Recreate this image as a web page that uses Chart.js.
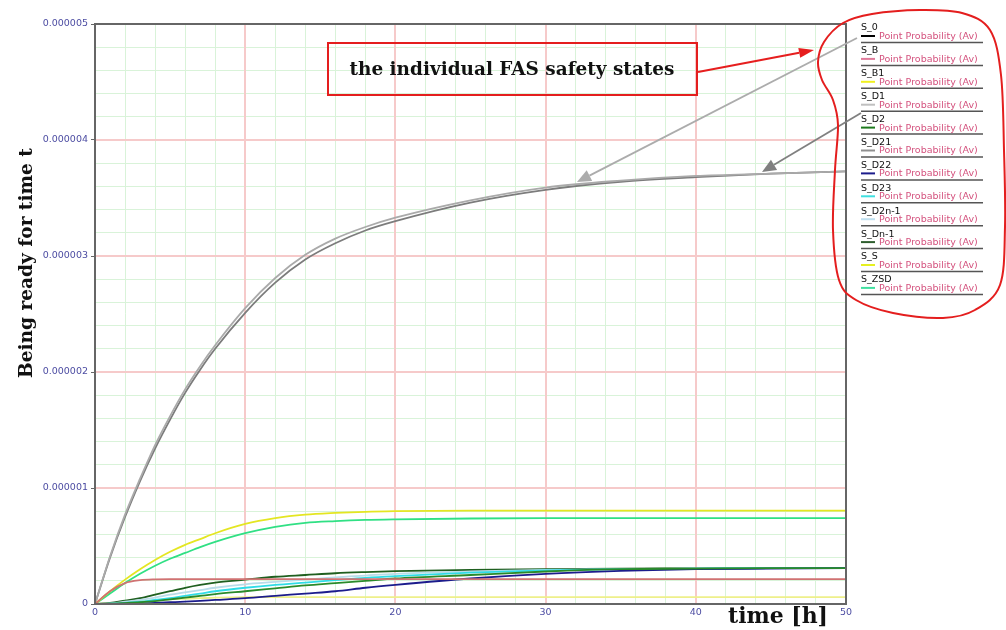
<!DOCTYPE html>
<html>
<head>
<meta charset="utf-8">
<script src="https://cdn.jsdelivr.net/npm/chart.js@4.4.1/dist/chart.umd.min.js"></script>
<style>
    html, body { margin: 0; padding: 0; background: #fff; }
</style>
</head>
<body>
<canvas id="chart" width="1006" height="630"></canvas>
<script>
// time [h]
const times = [0, 1, 2, 3, 4, 5, 6, 7, 8, 10, 12, 14, 16, 18, 20, 25, 30, 35, 40, 45, 50];

// point probability, in units of 1e-6
const S_0     = [0, 0, 0, 0, 0, 0, 0, 0, 0, 0, 0, 0, 0, 0, 0, 0, 0, 0, 0, 0, 0];
const S_B     = [0, 0.11, 0.18, 0.205, 0.213, 0.215, 0.215, 0.215, 0.215, 0.215, 0.215, 0.215, 0.215, 0.215, 0.215, 0.215, 0.215, 0.215, 0.215, 0.215, 0.215];
const S_B1    = [0, 0.11, 0.21, 0.30, 0.38, 0.45, 0.51, 0.56, 0.61, 0.69, 0.74, 0.77, 0.785, 0.795, 0.80, 0.805, 0.805, 0.805, 0.805, 0.805, 0.805];
const S_D1    = [0, 0.41, 0.77, 1.08, 1.37, 1.62, 1.85, 2.05, 2.23, 2.55, 2.81, 3.01, 3.15, 3.25, 3.33, 3.48, 3.59, 3.65, 3.69, 3.71, 3.73];
const S_D2    = [0, 0.002, 0.008, 0.015, 0.025, 0.04, 0.055, 0.07, 0.085, 0.11, 0.135, 0.16, 0.18, 0.20, 0.22, 0.25, 0.28, 0.30, 0.305, 0.31, 0.31];
const S_D21   = [0, 0.40, 0.75, 1.06, 1.34, 1.59, 1.82, 2.02, 2.20, 2.51, 2.77, 2.97, 3.11, 3.22, 3.30, 3.46, 3.57, 3.64, 3.68, 3.71, 3.73];
const S_D22   = [0, 0, 0.002, 0.005, 0.01, 0.015, 0.02, 0.027, 0.035, 0.05, 0.07, 0.09, 0.11, 0.14, 0.165, 0.22, 0.26, 0.285, 0.30, 0.305, 0.31];
const S_D23   = [0, 0.003, 0.01, 0.02, 0.035, 0.05, 0.07, 0.09, 0.11, 0.14, 0.165, 0.185, 0.205, 0.225, 0.24, 0.27, 0.29, 0.30, 0.305, 0.31, 0.31];
const S_D2n_1 = [0, 0.005, 0.02, 0.035, 0.055, 0.08, 0.10, 0.12, 0.14, 0.17, 0.19, 0.21, 0.23, 0.245, 0.26, 0.28, 0.295, 0.30, 0.305, 0.31, 0.31];
const S_Dn_1  = [0, 0.01, 0.03, 0.05, 0.08, 0.11, 0.14, 0.165, 0.185, 0.21, 0.235, 0.25, 0.265, 0.275, 0.283, 0.293, 0.30, 0.305, 0.307, 0.31, 0.31];
const S_S     = [0, 0.005, 0.01, 0.02, 0.03, 0.04, 0.045, 0.05, 0.055, 0.06, 0.06, 0.06, 0.06, 0.06, 0.06, 0.06, 0.06, 0.06, 0.06, 0.06, 0.06];
const S_ZSD   = [0, 0.09, 0.18, 0.26, 0.33, 0.39, 0.44, 0.49, 0.535, 0.61, 0.665, 0.70, 0.715, 0.725, 0.73, 0.737, 0.74, 0.74, 0.74, 0.74, 0.74];

const seriesNames  = ['S_0', 'S_B', 'S_B1', 'S_D1', 'S_D2', 'S_D21', 'S_D22', 'S_D23', 'S_D2n-1', 'S_Dn-1', 'S_S', 'S_ZSD'];
const seriesValues = [S_0, S_B, S_B1, S_D1, S_D2, S_D21, S_D22, S_D23, S_D2n_1, S_Dn_1, S_S, S_ZSD];
const seriesColors = ['#000000', '#d07272', '#e4e622', '#aaaaaa', '#2a8a2a', '#7c7c7c', '#1c1c8c', '#30dce6', '#b8dce8', '#1f5f1f', '#eef08a', '#30e084'];
const legendColors = ['#000000', '#e07a9a', '#f0f020', '#c0c0c0', '#1e7a1e', '#909090', '#1c1c8c', '#40e0e0', '#c0e0f0', '#2e5e2e', '#e6f020', '#40e0a0'];

const xTickLabels = ['0', '10', '20', '30', '40', '50'];
const yTickLabels = ['0', '0.000001', '0.000002', '0.000003', '0.000004', '0.000005'];

const tickBlue = '#4c4ca2';
const majorGrid = '#f6caca';
const minorGrid = '#d9f3d9';

function isMajor(v, step) {
    const r = v / step;
    return Math.abs(r - Math.round(r)) < 1e-6;
}

function fitSize(ctx, text, font, width) {
    ctx.font = 'bold 20px ' + font;
    return 20 * width / ctx.measureText(text).width;
}

function arrow(ctx, x1, y1, x2, y2, color, lw, headLen, headW) {
    const a = Math.atan2(y2 - y1, x2 - x1);
    const bx = x2 - headLen * Math.cos(a), by = y2 - headLen * Math.sin(a);
    ctx.strokeStyle = color;
    ctx.fillStyle = color;
    ctx.lineWidth = lw;
    ctx.beginPath();
    ctx.moveTo(x1, y1);
    ctx.lineTo(bx, by);
    ctx.stroke();
    ctx.beginPath();
    ctx.moveTo(x2, y2);
    ctx.lineTo(bx + headW * Math.sin(a), by - headW * Math.cos(a));
    ctx.lineTo(bx - headW * Math.sin(a), by + headW * Math.cos(a));
    ctx.closePath();
    ctx.fill();
}

// closed smooth loop (catmull-rom) around the legend
const loopPts = [[843, 23], [872, 14], [920, 10], [962, 13], [990, 30], [1001, 75], [1004, 150], [1005, 227],
    [1000, 285], [975, 310], [943, 318], [893, 313], [856, 300], [839, 280], [833, 230], [835, 170],
    [838, 125], [833, 100], [822, 80], [818, 62], [824, 42]];

function drawLoop(ctx) {
    const n = loopPts.length;
    ctx.beginPath();
    ctx.moveTo(loopPts[0][0], loopPts[0][1]);
    for (let i = 0; i < n; i++) {
        const p0 = loopPts[(i - 1 + n) % n], p1 = loopPts[i], p2 = loopPts[(i + 1) % n], p3 = loopPts[(i + 2) % n];
        ctx.bezierCurveTo(
            p1[0] + (p2[0] - p0[0]) / 6, p1[1] + (p2[1] - p0[1]) / 6,
            p2[0] - (p3[0] - p1[0]) / 6, p2[1] - (p3[1] - p1[1]) / 6,
            p2[0], p2[1]);
    }
    ctx.closePath();
    ctx.strokeStyle = '#e41e1e';
    ctx.lineWidth = 2;
    ctx.stroke();
}

const decorations = {
    id: 'decorations',
    beforeDraw(chart) {
        const ctx = chart.ctx;
        ctx.save();
        ctx.fillStyle = '#fff';
        ctx.fillRect(0, 0, chart.width, chart.height);
        ctx.restore();
    },
    beforeDatasetsDraw(chart) {
        // major (red) grid lines, at the ticks of the scales
        const ctx = chart.ctx;
        const a = chart.chartArea;
        const xs = chart.scales.x, ys = chart.scales.y;
        ctx.save();
        ctx.strokeStyle = majorGrid;
        ctx.lineWidth = 2;
        ctx.beginPath();
        xs.ticks.forEach(t => {
            if (!isMajor(t.value, 10)) return;
            const px = Math.round(xs.getPixelForValue(t.value));
            ctx.moveTo(px, a.top);
            ctx.lineTo(px, a.bottom);
        });
        ys.ticks.forEach(t => {
            if (!isMajor(t.value, 1)) return;
            const py = Math.round(ys.getPixelForValue(t.value));
            ctx.moveTo(a.left, py);
            ctx.lineTo(a.right, py);
        });
        ctx.stroke();
        ctx.restore();
    },
    afterDraw(chart) {
        const ctx = chart.ctx;
        const a = chart.chartArea;
        ctx.save();

        // frame
        ctx.strokeStyle = '#666';
        ctx.lineWidth = 2;
        ctx.strokeRect(a.left, a.top, a.right - a.left, a.bottom - a.top);

        // axis titles
        const serif = '"DejaVu Serif", serif';
        ctx.fillStyle = '#111';
        ctx.textAlign = 'center';
        ctx.textBaseline = 'middle';
        const yt = 'Being ready for time t';
        ctx.font = 'bold ' + fitSize(ctx, yt, serif, 230) + 'px ' + serif;
        ctx.save();
        ctx.translate(27, 263);
        ctx.rotate(-Math.PI / 2);
        ctx.fillText(yt, 0, 0);
        ctx.restore();

        const xt = 'time [h]';
        ctx.font = 'bold ' + fitSize(ctx, xt, serif, 100) + 'px ' + serif;
        ctx.fillText(xt, 778, 617);

        // annotation box
        ctx.strokeStyle = '#e41e1e';
        ctx.lineWidth = 2;
        ctx.strokeRect(328, 43, 369, 52);
        const bt = 'the individual FAS safety states';
        ctx.font = 'bold ' + fitSize(ctx, bt, serif, 325) + 'px ' + serif;
        ctx.fillText(bt, 512, 70);

        // arrows
        arrow(ctx, 698, 72, 814, 50, '#e61e1e', 2, 15, 5);
        arrow(ctx, 857, 38, 577, 182, '#acacac', 1.8, 14, 6);
        arrow(ctx, 861, 113, 762, 172, '#808080', 1.8, 14, 6);

        // legend
        const sans = '"DejaVu Sans", sans-serif';
        ctx.textAlign = 'left';
        seriesNames.forEach((name, i) => {
            const y0 = 28 + i * 22.9;
            ctx.fillStyle = '#111';
            ctx.font = '9.5px ' + sans;
            ctx.fillText(name, 861, y0);
            ctx.strokeStyle = legendColors[i];
            ctx.lineWidth = 2;
            ctx.beginPath();
            ctx.moveTo(861, y0 + 8);
            ctx.lineTo(875, y0 + 8);
            ctx.stroke();
            ctx.fillStyle = '#d4527e';
            ctx.fillText('Point Probability (Av)', 879, y0 + 8.5);
            ctx.strokeStyle = '#555';
            ctx.lineWidth = 1.5;
            ctx.beginPath();
            ctx.moveTo(861, y0 + 14.5);
            ctx.lineTo(983, y0 + 14.5);
            ctx.stroke();
        });

        drawLoop(ctx);
        ctx.restore();
    }
};

const datasets = seriesNames.map((name, i) => ({
    label: name,
    data: times.map((t, j) => ({ x: t, y: seriesValues[i][j] })),
    borderColor: seriesColors[i],
    backgroundColor: seriesColors[i],
    borderWidth: 1.8,
    pointRadius: 0,
    cubicInterpolationMode: 'monotone',
    fill: false,
}));

new Chart(document.getElementById('chart').getContext('2d'), {
    type: 'line',
    data: { datasets },
    options: {
        responsive: false,
        animation: false,
        layout: { padding: { left: 0, right: 160, top: 24, bottom: 0 } },
        plugins: { legend: { display: false }, tooltip: { enabled: false } },
        scales: {
            x: {
                type: 'linear',
                min: 0,
                max: 50,
                ticks: {
                    stepSize: 2,
                    autoSkip: false,
                    maxRotation: 0,
                    padding: 3,
                    color: tickBlue,
                    font: { family: 'DejaVu Sans', size: 9.5 },
                    callback: v => isMajor(v, 10) ? xTickLabels[Math.round(v / 10)] : '',
                },
                grid: {
                    drawTicks: false,
                    lineWidth: 1,
                    color: c => (c.tick && isMajor(c.tick.value, 10)) ? 'rgba(0,0,0,0)' : minorGrid,
                },
                border: { color: '#666', width: 2 },
                afterFit: s => { s.height = 26; },
            },
            y: {
                min: 0,
                max: 5,
                ticks: {
                    stepSize: 0.2,
                    autoSkip: false,
                    padding: 3,
                    color: tickBlue,
                    font: { family: 'DejaVu Sans', size: 9.5 },
                    callback: v => isMajor(v, 1) ? yTickLabels[Math.round(v)] : '',
                },
                grid: {
                    tickLength: 4,
                    lineWidth: 1,
                    color: c => (c.tick && isMajor(c.tick.value, 1)) ? 'rgba(0,0,0,0)' : minorGrid,
                    tickColor: c => (c.tick && isMajor(c.tick.value, 1)) ? '#666' : 'rgba(0,0,0,0)',
                },
                border: { color: '#666', width: 2 },
                afterFit: s => { s.width = 95; },
            },
        },
    },
    plugins: [decorations],
});
</script>
</body>
</html>
